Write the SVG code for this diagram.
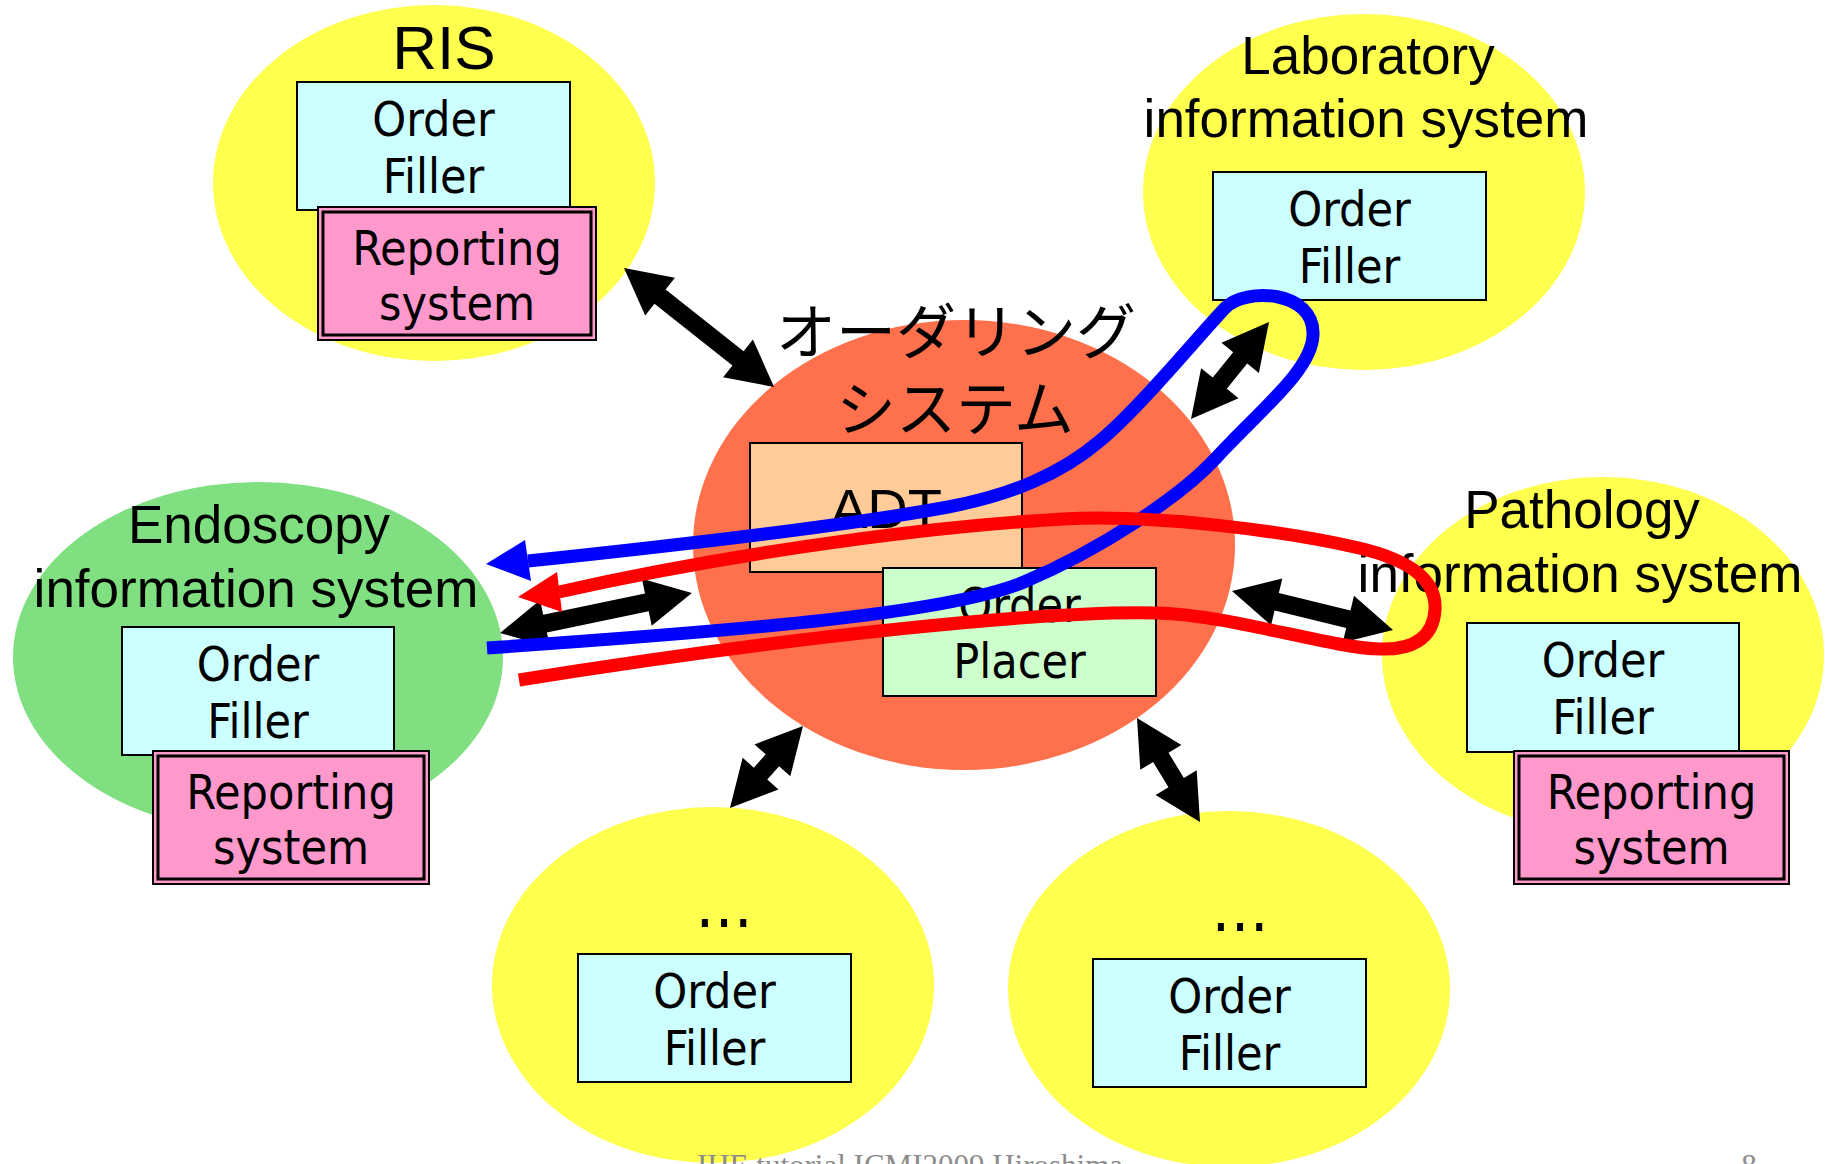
<svg xmlns="http://www.w3.org/2000/svg" width="1825" height="1164" viewBox="0 0 1825 1164">
<defs>
<style>
.yel{fill:#FFFF4D}
.of{fill:#CCFFFF;stroke:#000;stroke-width:2}
.rep{fill:#FF99CC;stroke:#000}
.t{font-family:"DejaVu Sans Condensed","DejaVu Sans",sans-serif;font-stretch:condensed;font-size:48px;text-anchor:middle;fill:#000}
.dots{font-family:"DejaVu Sans Condensed","DejaVu Sans",sans-serif;font-stretch:condensed;font-size:64px;text-anchor:middle;fill:#000}
.a{font-family:"Liberation Sans",Arial,sans-serif;font-size:53px;text-anchor:middle;fill:#000}
.jp{font-family:"Noto Sans CJK JP",sans-serif;font-size:60px;text-anchor:middle;fill:#000}
.arr{fill:#000}
.cb{fill:none;stroke:#0000FF;stroke-width:13}
.cr{fill:none;stroke:#FF0000;stroke-width:13}
.foot{font-family:"Liberation Serif","Times New Roman",serif;font-size:31px;fill:#8C8C8C}
</style>
</defs>
<rect width="1825" height="1164" fill="#fff"/>

<g id="ordering-system">
<ellipse cx="964" cy="545" rx="271" ry="225" fill="#FF704D"/>
<text class="jp" x="956" y="354">オーダリング</text>
<text class="jp" x="955" y="431">システム</text>
<rect x="750" y="443" width="272" height="129" fill="#FFCC99" stroke="#000" stroke-width="2"/>
<text class="a" x="886" y="528" style="font-size:56px">ADT</text>
<rect x="883" y="568" width="273" height="128" fill="#CCFFCC" stroke="#000" stroke-width="2"/>
<text class="t" x="1019.5" y="622">Order</text>
<text class="t" x="1019.5" y="678">Placer</text>
</g>

<g id="ris">
<ellipse class="yel" cx="434" cy="183" rx="221" ry="178"/>
<text class="a" x="444" y="69" style="font-size:62px">RIS</text>
<rect class="of" x="297" y="82" width="273" height="128"/>
<text class="t" x="433.5" y="136">Order</text>
<text class="t" x="433.5" y="193">Filler</text>
<rect class="rep" x="318" y="207" width="278" height="133" stroke-width="2"/>
<rect class="rep" x="323" y="212" width="268" height="123" stroke-width="3"/>
<text class="t" x="457" y="265">Reporting</text>
<text class="t" x="457" y="320">system</text>
</g>

<g id="laboratory">
<ellipse class="yel" cx="1364" cy="192" rx="221" ry="178"/>
<text class="a" x="1368" y="74">Laboratory</text>
<text class="a" x="1366" y="137">information system</text>
<rect class="of" x="1213" y="172" width="273" height="128"/>
<text class="t" x="1349.5" y="226">Order</text>
<text class="t" x="1349.5" y="283">Filler</text>
</g>

<g id="endoscopy">
<ellipse cx="258" cy="657" rx="245" ry="175" fill="#80DF80"/>
<text class="a" x="259" y="543">Endoscopy</text>
<text class="a" x="256" y="607">information system</text>
<rect class="of" x="122" y="627" width="272" height="128"/>
<text class="t" x="258" y="681">Order</text>
<text class="t" x="258" y="738">Filler</text>
<rect class="rep" x="153" y="751" width="276" height="133" stroke-width="2"/>
<rect class="rep" x="158" y="756" width="266" height="123" stroke-width="3"/>
<text class="t" x="291" y="809">Reporting</text>
<text class="t" x="291" y="864">system</text>
</g>

<g id="pathology">
<ellipse class="yel" cx="1603" cy="655" rx="221" ry="178"/>
<text class="a" x="1582" y="528">Pathology</text>
<text class="a" x="1580" y="592">information system</text>
<rect class="of" x="1467" y="623" width="272" height="129"/>
<text class="t" x="1603" y="677">Order</text>
<text class="t" x="1603" y="734">Filler</text>
<rect class="rep" x="1514" y="751" width="275" height="133" stroke-width="2"/>
<rect class="rep" x="1519" y="756" width="265" height="123" stroke-width="3"/>
<text class="t" x="1651.5" y="809">Reporting</text>
<text class="t" x="1651.5" y="864">system</text>
</g>

<g id="other-1">
<ellipse class="yel" cx="713" cy="985" rx="221" ry="178"/>
<text class="dots" x="724" y="927">…</text>
<rect class="of" x="578" y="954" width="273" height="128"/>
<text class="t" x="714.5" y="1008">Order</text>
<text class="t" x="714.5" y="1065">Filler</text>
</g>

<g id="other-2">
<ellipse class="yel" cx="1229" cy="989" rx="221" ry="178"/>
<text class="dots" x="1240" y="931">…</text>
<rect class="of" x="1093" y="959" width="273" height="128"/>
<text class="t" x="1229.5" y="1013">Order</text>
<text class="t" x="1229.5" y="1070">Filler</text>
</g>

<g id="connectors">
<polygon class="arr" transform="translate(624,268) rotate(38.4)" points="0,0 46,-24 46,-9 145.5,-9 145.5,-24 191.5,0 145.5,24 145.5,9 46,9 46,24"/>
<polygon class="arr" transform="translate(1269,322) rotate(128.8)" points="0,0 46,-24 46,-9 78.5,-9 78.5,-24 124.5,0 78.5,24 78.5,9 46,9 46,24"/>
<polygon class="arr" transform="translate(500,633) rotate(-11.8)" points="0,0 46,-24 46,-9 150,-9 150,-24 196,0 150,24 150,9 46,9 46,24"/>
<polygon class="arr" transform="translate(1232,591) rotate(13.6)" points="0,0 46,-24 46,-9 119.7,-9 119.7,-24 165.7,0 119.7,24 119.7,9 46,9 46,24"/>
<polygon class="arr" transform="translate(803,726) rotate(131.7)" points="0,0 46,-24 46,-9 63.8,-9 63.8,-24 109.8,0 63.8,24 63.8,9 46,9 46,24"/>
<polygon class="arr" transform="translate(1137,718) rotate(58.8)" points="0,0 46,-24 46,-9 75.6,-9 75.6,-24 121.6,0 75.6,24 75.6,9 46,9 46,24"/>

<path class="cb" d="M528,561 C680,545 850,525 948,507 C1010,495 1060,475 1101,440 C1140,407 1195,340 1225,308 C1245,287 1315,290 1313,335 C1312,370 1260,410 1216,458 C1180,497 1100,550 1024,582 C950,613 750,630 487,648"/>
<polygon fill="#0000FF" points="486,564 525,540 531,581"/>

<path class="cr" d="M559,592 C700,560 900,528 1063,519 C1150,514 1280,530 1359,548 C1410,560 1437,580 1435,610 C1433,640 1410,650 1380,649 C1330,648 1230,615 1158,613 C1050,610 800,635 519,680"/>
<polygon fill="#FF0000" points="518,597 557,572 562,612"/>
</g>

<g id="footer">
<text class="foot" x="910" y="1176" text-anchor="middle">IHE tutorial ICMI2009 Hiroshima</text>
<text class="foot" x="1749" y="1176" text-anchor="middle">8</text>
</g>
</svg>
